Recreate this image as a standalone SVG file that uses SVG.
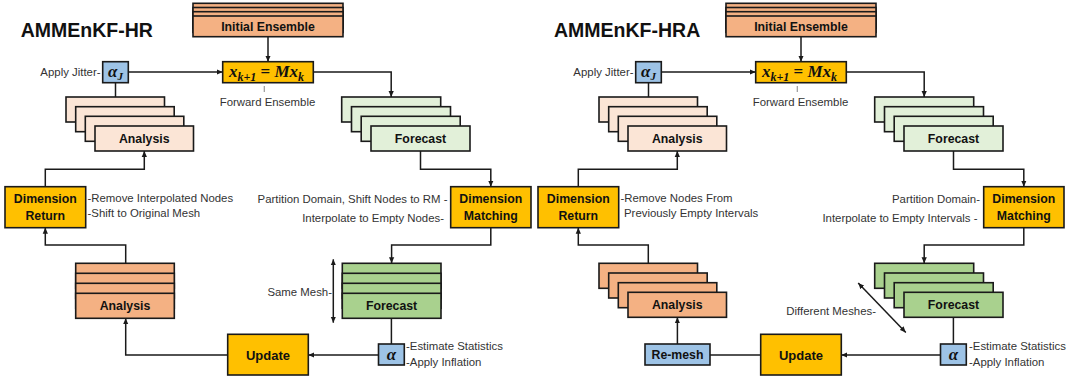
<svg xmlns="http://www.w3.org/2000/svg" width="1081" height="382" viewBox="0 0 1081 382">
<defs>
<style>
.box{stroke:#1a1a1a;stroke-width:1.6}
.yel{fill:#FFC000}
.blu{fill:#9DC3E6}
.pk1{fill:#FBE5D6}
.pk2{fill:#F4B183}
.gr1{fill:#E2F0D9}
.gr2{fill:#A9D18E}
.lbl{font-family:"Liberation Sans",Arial,sans-serif;font-weight:bold;font-size:12.3px;fill:#111;text-anchor:middle}
.upd{font-size:13px}
.note{font-family:"Liberation Sans",Arial,sans-serif;font-size:11.4px;fill:#333}
.end{text-anchor:end}
.title{font-family:"Liberation Sans",Arial,sans-serif;font-weight:bold;font-size:19.5px;fill:#111}
.math{font-family:"Liberation Serif","DejaVu Serif",serif;font-weight:bold;font-style:italic;font-size:17px;fill:#111;text-anchor:middle}
.con{fill:none;stroke:#1a1a1a;stroke-width:1.5}
.tick{stroke:#999;stroke-width:1.2}
</style>
<marker id="ah" viewBox="0 0 8 8" refX="8" refY="4" markerWidth="6" markerHeight="6" markerUnits="userSpaceOnUse" orient="auto-start-reverse">
<path d="M0,0.5 L8,4 L0,7.5 z" fill="#1a1a1a"/>
</marker>
</defs>
<rect width="1081" height="382" fill="#fff"/>

<!-- ===== LEFT: AMMEnKF-HR ===== -->
<text class="title" x="20.7" y="37">AMMEnKF-HR</text>

<g id="L-initial">
<rect class="box pk2" x="193" y="3.3" width="150" height="20.7"/>
<rect class="box pk2" x="193" y="7.5" width="150" height="20.7"/>
<rect class="box pk2" x="193" y="11.7" width="150" height="20.7"/>
<rect class="box pk2" x="193" y="16" width="150" height="20.7"/>
<text class="lbl" x="268" y="31">Initial Ensemble</text>
</g>

<g id="L-forward">
<rect class="box yel" x="222.7" y="61.7" width="90.6" height="21"/>
<text class="math" x="266.5" y="77">x<tspan font-size="12" dy="4">k+1</tspan><tspan dy="-4" font-style="normal"> = </tspan>Mx<tspan font-size="12" dy="4">k</tspan></text>
<line class="tick" x1="264.3" y1="86" x2="264.3" y2="92"/>
<text class="note" x="267.5" y="105.5" text-anchor="middle">Forward Ensemble</text>
</g>

<g id="L-alphaJ">
<rect class="box blu" x="102.7" y="61.7" width="25.6" height="21"/>
<text class="math" x="115.5" y="76.5">α<tspan font-size="11" dy="3">J</tspan></text>
<text class="note end" x="100.5" y="75.5">Apply Jitter-</text>
</g>

<g id="L-analysis-top">
<rect class="box pk1" x="66" y="97" width="98.5" height="25"/>
<rect class="box pk1" x="75.7" y="106.7" width="98.5" height="25"/>
<rect class="box pk1" x="85.3" y="116.3" width="98.5" height="25"/>
<rect class="box pk1" x="95" y="126" width="98.5" height="25"/>
<text class="lbl" x="144.25" y="142.8">Analysis</text>
</g>

<g id="L-forecast-top">
<rect class="box gr1" x="341.7" y="97" width="99" height="25"/>
<rect class="box gr1" x="351.5" y="106.7" width="99" height="25"/>
<rect class="box gr1" x="361.2" y="116.3" width="99" height="25"/>
<rect class="box gr1" x="371" y="126" width="99" height="25"/>
<text class="lbl" x="420.5" y="142.8">Forecast</text>
</g>

<g id="L-dimreturn">
<rect class="box yel" x="5" y="186.7" width="80.7" height="41"/>
<text class="lbl" x="45.3" y="203.3">Dimension</text>
<text class="lbl" x="45.3" y="220.3">Return</text>
<text class="note" x="87.5" y="202.3">-Remove Interpolated Nodes</text>
<text class="note" x="87.5" y="217.3">-Shift to Original Mesh</text>
</g>

<g id="L-dimmatch">
<rect class="box yel" x="450.7" y="186.7" width="80.3" height="41"/>
<text class="lbl" x="490.8" y="203.3">Dimension</text>
<text class="lbl" x="490.8" y="220.3">Matching</text>
<text class="note end" x="447.5" y="203.3">Partition Domain, Shift Nodes to RM -</text>
<text class="note end" x="444" y="222">Interpolate to Empty Nodes-</text>
</g>

<g id="L-analysis-bottom">
<rect class="box pk2" x="75.7" y="263.3" width="98.6" height="25"/>
<rect class="box pk2" x="75.7" y="273.3" width="98.6" height="25"/>
<rect class="box pk2" x="75.7" y="283.3" width="98.6" height="25"/>
<rect class="box pk2" x="75.7" y="293.3" width="98.6" height="25"/>
<text class="lbl" x="125" y="310.1">Analysis</text>
</g>

<g id="L-forecast-bottom">
<rect class="box gr2" x="342.3" y="263.3" width="98.7" height="25"/>
<rect class="box gr2" x="342.3" y="273.3" width="98.7" height="25"/>
<rect class="box gr2" x="342.3" y="283.3" width="98.7" height="25"/>
<rect class="box gr2" x="342.3" y="293.3" width="98.7" height="25"/>
<text class="lbl" x="391.6" y="310.1">Forecast</text>
<text class="note end" x="332" y="295.5">Same Mesh-</text>
</g>

<g id="L-update">
<rect class="box yel" x="227.7" y="334.3" width="80.6" height="40.7"/>
<text class="lbl upd" x="268" y="359.5">Update</text>
</g>

<g id="L-alpha">
<rect class="box blu" x="378.5" y="344" width="25.8" height="21"/>
<text class="math" x="391.4" y="359.5">α</text>
<text class="note" x="406" y="350">-Estimate Statistics</text>
<text class="note" x="406" y="365.5">-Apply Inflation</text>
</g>

<!-- ===== RIGHT: AMMEnKF-HRA ===== -->
<text class="title" x="554" y="37">AMMEnKF-HRA</text>

<g id="R-initial">
<rect class="box pk2" x="726" y="3.3" width="150" height="20.7"/>
<rect class="box pk2" x="726" y="7.5" width="150" height="20.7"/>
<rect class="box pk2" x="726" y="11.7" width="150" height="20.7"/>
<rect class="box pk2" x="726" y="16" width="150" height="20.7"/>
<text class="lbl" x="801" y="31">Initial Ensemble</text>
</g>

<g id="R-forward">
<rect class="box yel" x="755.7" y="61.7" width="90.6" height="21"/>
<text class="math" x="799.5" y="77">x<tspan font-size="12" dy="4">k+1</tspan><tspan dy="-4" font-style="normal"> = </tspan>Mx<tspan font-size="12" dy="4">k</tspan></text>
<line class="tick" x1="797.3" y1="86" x2="797.3" y2="92"/>
<text class="note" x="800.5" y="105.5" text-anchor="middle">Forward Ensemble</text>
</g>

<g id="R-alphaJ">
<rect class="box blu" x="635.7" y="61.7" width="25.6" height="21"/>
<text class="math" x="648.5" y="76.5">α<tspan font-size="11" dy="3">J</tspan></text>
<text class="note end" x="633.5" y="75.5">Apply Jitter-</text>
</g>

<g id="R-analysis-top">
<rect class="box pk1" x="599" y="97" width="98.5" height="25"/>
<rect class="box pk1" x="608.7" y="106.7" width="98.5" height="25"/>
<rect class="box pk1" x="618.3" y="116.3" width="98.5" height="25"/>
<rect class="box pk1" x="628" y="126" width="98.5" height="25"/>
<text class="lbl" x="677.25" y="142.8">Analysis</text>
</g>

<g id="R-forecast-top">
<rect class="box gr1" x="874.7" y="97" width="99" height="25"/>
<rect class="box gr1" x="884.5" y="106.7" width="99" height="25"/>
<rect class="box gr1" x="894.2" y="116.3" width="99" height="25"/>
<rect class="box gr1" x="904" y="126" width="99" height="25"/>
<text class="lbl" x="953.5" y="142.8">Forecast</text>
</g>

<g id="R-dimreturn">
<rect class="box yel" x="538" y="186.7" width="80.7" height="41"/>
<text class="lbl" x="578.3" y="203.3">Dimension</text>
<text class="lbl" x="578.3" y="220.3">Return</text>
<text class="note" x="620.5" y="202.3">-Remove Nodes From</text>
<text class="note" x="624" y="217.3">Previously Empty Intervals</text>
</g>

<g id="R-dimmatch">
<rect class="box yel" x="983.7" y="186.7" width="80.3" height="41"/>
<text class="lbl" x="1023.8" y="203.3">Dimension</text>
<text class="lbl" x="1023.8" y="220.3">Matching</text>
<text class="note end" x="980" y="203.3">Partition Domain-</text>
<text class="note end" x="977.5" y="222">Interpolate to Empty Intervals -</text>
</g>

<g id="R-analysis-bottom">
<rect class="box pk2" x="599" y="263.3" width="98.5" height="25"/>
<rect class="box pk2" x="608.7" y="273" width="98.5" height="25"/>
<rect class="box pk2" x="618.3" y="282.7" width="98.5" height="25"/>
<rect class="box pk2" x="628" y="292.3" width="98.5" height="25"/>
<text class="lbl" x="677.25" y="309.1">Analysis</text>
</g>

<g id="R-forecast-bottom">
<rect class="box gr2" x="874.7" y="263.3" width="99" height="25"/>
<rect class="box gr2" x="884.5" y="273" width="99" height="25"/>
<rect class="box gr2" x="894.2" y="282.7" width="99" height="25"/>
<rect class="box gr2" x="904" y="292.3" width="99" height="25"/>
<text class="lbl" x="953.5" y="309.1">Forecast</text>
<text class="note end" x="876" y="314.5">Different Meshes-</text>
</g>

<g id="R-remesh">
<rect class="box blu" x="645" y="344" width="65" height="21"/>
<text class="lbl" x="677.5" y="359.3">Re-mesh</text>
</g>

<g id="R-update">
<rect class="box yel" x="760.7" y="334.3" width="80.6" height="40.7"/>
<text class="lbl upd" x="801" y="359.5">Update</text>
</g>

<g id="R-alpha">
<rect class="box blu" x="940.5" y="344" width="25.8" height="21"/>
<text class="math" x="953.4" y="359.5">α</text>
<text class="note" x="969" y="350">-Estimate Statistics</text>
<text class="note" x="969" y="365.5">-Apply Inflation</text>
</g>

<!-- ===== CONNECTORS ===== -->
<g id="connectors">
<!-- left -->
<path class="con" d="M268,36.7 V61.7" marker-end="url(#ah)"/>
<path class="con" d="M128.3,72 H222.7" marker-end="url(#ah)"/>
<path class="con" d="M115.5,82.7 V97"/>
<path class="con" d="M313.3,72 H391.2 V97" marker-end="url(#ah)"/>
<path class="con" d="M420.5,151 V169.3 H490.8 V186.7" marker-end="url(#ah)"/>
<path class="con" d="M45.3,186.7 V169.3 H144.3 V151" marker-end="url(#ah)"/>
<path class="con" d="M490.8,227.7 V245 H391.6 V263.3" marker-end="url(#ah)"/>
<path class="con" d="M125.7,263.3 V245 H45.3 V227.7" marker-end="url(#ah)"/>
<path class="con" d="M391.4,318.3 V344"/>
<path class="con" d="M378.5,355 H308.3" marker-end="url(#ah)"/>
<path class="con" d="M227.7,355 H125.7 V318.3" marker-end="url(#ah)"/>
<path class="con" d="M333.3,259.3 V322.7" marker-start="url(#ah)" marker-end="url(#ah)"/>
<!-- right -->
<path class="con" d="M801,36.7 V61.7" marker-end="url(#ah)"/>
<path class="con" d="M661.3,72 H755.7" marker-end="url(#ah)"/>
<path class="con" d="M648.5,82.7 V97"/>
<path class="con" d="M846.3,72 H924.2 V97" marker-end="url(#ah)"/>
<path class="con" d="M953.5,151 V169.3 H1023.8 V186.7" marker-end="url(#ah)"/>
<path class="con" d="M578.3,186.7 V169.3 H677.3 V151" marker-end="url(#ah)"/>
<path class="con" d="M1023.8,227.7 V245 H924.2 V263.3" marker-end="url(#ah)"/>
<path class="con" d="M648.3,263.3 V245 H578.3 V227.7" marker-end="url(#ah)"/>
<path class="con" d="M953.4,317.3 V344"/>
<path class="con" d="M940.5,355 H841.3" marker-end="url(#ah)"/>
<path class="con" d="M760.7,355 H710"/>
<path class="con" d="M677.4,344 V317.3" marker-end="url(#ah)"/>
<path class="con" d="M858.2,283.1 L905.8,332.5" marker-start="url(#ah)" marker-end="url(#ah)"/>
</g>
</svg>
